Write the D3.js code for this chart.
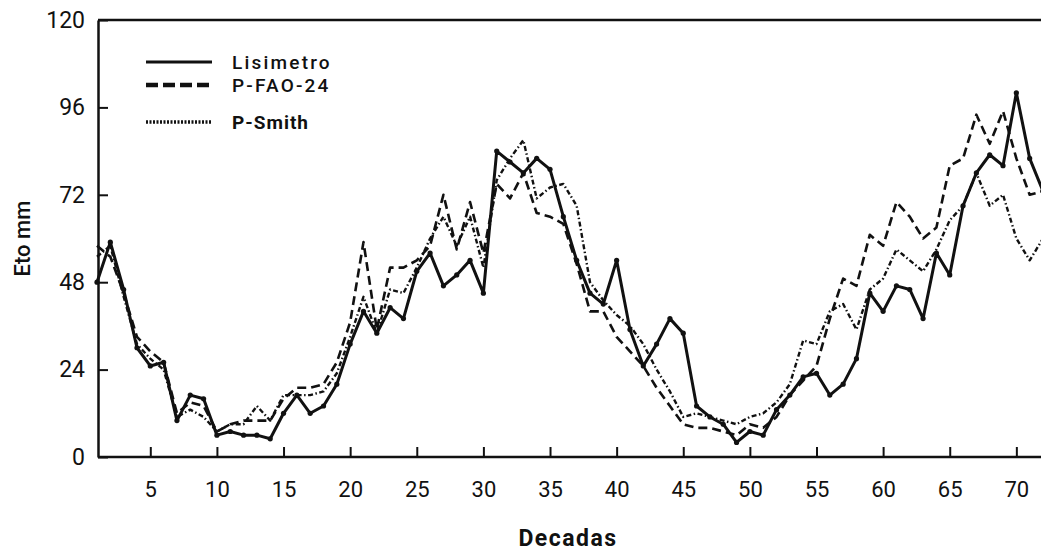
<!DOCTYPE html>
<html>
<head>
<meta charset="utf-8">
<script src="https://cdn.jsdelivr.net/npm/d3@7"></script>
<style>
  body { margin: 0; background: #fff; }
  #chart { width: 1041px; height: 556px; }
  text { font-family: Roboto, "DejaVu Sans", sans-serif; fill: #111; }
</style>
</head>
<body>
<div id="chart"></div>
<script>
var decadas = d3.range(1, 73);

var lisimetro = [48, 59, 46, 30, 25, 26, 10, 17, 16, 6,
  7, 6, 6, 5, 12, 17, 12, 14, 20, 31,
  40, 34, 41, 38, 51, 56, 47, 50, 54, 45,
  84, 81, 78, 82, 79, 66, 54, 45, 42, 54,
  35, 25, 31, 38, 34, 14, 11, 9, 4, 7,
  6, 13, 17, 22, 23, 17, 20, 27, 45, 40,
  47, 46, 38, 56, 50, 69, 78, 83, 80, 100,
  82, 73];

var pFao24 = [58, 55, 45, 33, 29, 26, 12, 15, 14, 7,
  9, 10, 10, 10, 16, 19, 19, 20, 26, 37,
  59, 35, 52, 52, 54, 58, 72, 57, 70, 56,
  75, 71, 78, 67, 66, 64, 53, 40, 40, 33,
  29, 25, 19, 14, 9, 8, 8, 7, 6, 9,
  8, 11, 17, 21, 25, 38, 49, 47, 61, 58,
  70, 66, 60, 63, 80, 82, 94, 86, 95, 82,
  72, 73];

var pSmith = [55, 58, 44, 31, 27, 24, 11, 13, 11, 7,
  9, 9, 14, 10, 17, 17, 17, 18, 23, 33,
  44, 34, 46, 45, 52, 60, 66, 58, 66, 52,
  76, 82, 87, 71, 74, 75, 69, 48, 43, 39,
  36, 31, 24, 18, 11, 12, 11, 10, 9, 11,
  12, 15, 20, 32, 31, 40, 42, 35, 46, 49,
  57, 54, 51, 57, 65, 69, 78, 69, 72, 60,
  54, 60];

var xTicks = [5, 10, 15, 20, 25, 30, 35, 40, 45, 50, 55, 60, 65, 70];
var yTicks = [0, 24, 48, 72, 96, 120];

var seriesNames = ["Lisimetro", "P-FAO-24", "P-Smith"];

var pxX = 1041, pxY = 556;
var mLeft = 98, mTop = 20, mBottom = 457;

var svg = d3.select("#chart").append("svg")
  .attr("width", pxX)
  .attr("height", pxY);

// --- Scales ---

var scX = d3.scaleLinear().domain([1, 72]).range([97, 1043]);
var scY = d3.scaleLinear().domain([0, 120]).range([mBottom, mTop]);

// --- Axes ---

var gx = svg.append("g")
  .attr("transform", `translate(0, ${mBottom})`)
  .call(d3.axisBottom(scX)
    .tickValues(xTicks)
    .tickSizeInner(-10)
    .tickSizeOuter(0)
    .tickPadding(24));

var gy = svg.append("g")
  .attr("transform", `translate(${mLeft}, 0)`)
  .call(d3.axisLeft(scY)
    .tickValues(yTicks)
    .tickSizeInner(-10)
    .tickSizeOuter(0)
    .tickPadding(13));

gx.select(".domain").attr("d", `M${mLeft},0H${pxX}`);
[gx, gy].forEach(function(g) {
  g.select(".domain").attr("stroke", "#111").attr("stroke-width", 2.5);
  g.selectAll(".tick line").attr("stroke", "#111").attr("stroke-width", 2);
  g.selectAll(".tick text").attr("fill", "#111");
});
gx.selectAll(".tick text").attr("font-size", 22).attr("font-family", "Roboto");
gy.selectAll(".tick text").attr("font-size", 23).attr("font-family", "Roboto");

// top frame line
svg.append("line")
  .attr("x1", mLeft).attr("x2", pxX)
  .attr("y1", scY(120)).attr("y2", scY(120))
  .attr("stroke", "#111").attr("stroke-width", 2.5);

svg.append("text")
  .attr("transform", `translate(30, ${scY(60)}) rotate(-90)`)
  .attr("text-anchor", "middle")
  .attr("font-size", 22)
  .attr("font-weight", 500)
  .text("Eto mm");

svg.append("text")
  .attr("x", 568).attr("y", 546)
  .attr("text-anchor", "middle")
  .attr("font-size", 23)
  .attr("font-weight", "bold")
  .attr("letter-spacing", 1.5)
  .attr("font-family", "Liberation Sans, Arial, sans-serif")
  .text("Decadas");

// --- Lines ---

var styles = [
  { width: 3, dash: null },
  { width: 2.6, dash: "9,5" },
  { width: 2.4, dash: "5,2.5,1.5,2.5" }
];

var lnMkr = d3.line()
  .x((d, i) => scX(decadas[i]))
  .y(d => scY(d));

[lisimetro, pFao24, pSmith].forEach(function(vals, k) {
  svg.append("path")
    .attr("fill", "none")
    .attr("stroke", "#111")
    .attr("stroke-width", styles[k].width)
    .attr("stroke-dasharray", styles[k].dash)
    .attr("stroke-linejoin", "round")
    .attr("d", lnMkr(vals));
});

svg.append("g").selectAll("circle")
  .data(lisimetro)
  .enter()
  .append("circle")
  .attr("cx", (d, i) => scX(decadas[i]))
  .attr("cy", d => scY(d))
  .attr("r", 2.6)
  .attr("fill", "#111");

// --- Legend ---

var legend = svg.append("g");
var legY = [62, 85, 122];
var legendStyles = [
  { width: 3, dash: null },
  { width: 4.5, dash: "12,5" },
  { width: 3.5, dash: "2,1.5" }
];

seriesNames.forEach(function(name, k) {
  legend.append("line")
    .attr("x1", 146).attr("x2", 212)
    .attr("y1", legY[k]).attr("y2", legY[k])
    .attr("stroke", "#111")
    .attr("stroke-width", legendStyles[k].width)
    .attr("stroke-dasharray", legendStyles[k].dash);
  legend.append("text")
    .attr("x", 232).attr("y", legY[k] + 7)
    .attr("font-size", 19)
    .attr("font-weight", k == 2 ? "bold" : 500)
    .attr("letter-spacing", k == 2 ? 1 : 2.2)
    .text(name);
});
</script>
</body>
</html>
